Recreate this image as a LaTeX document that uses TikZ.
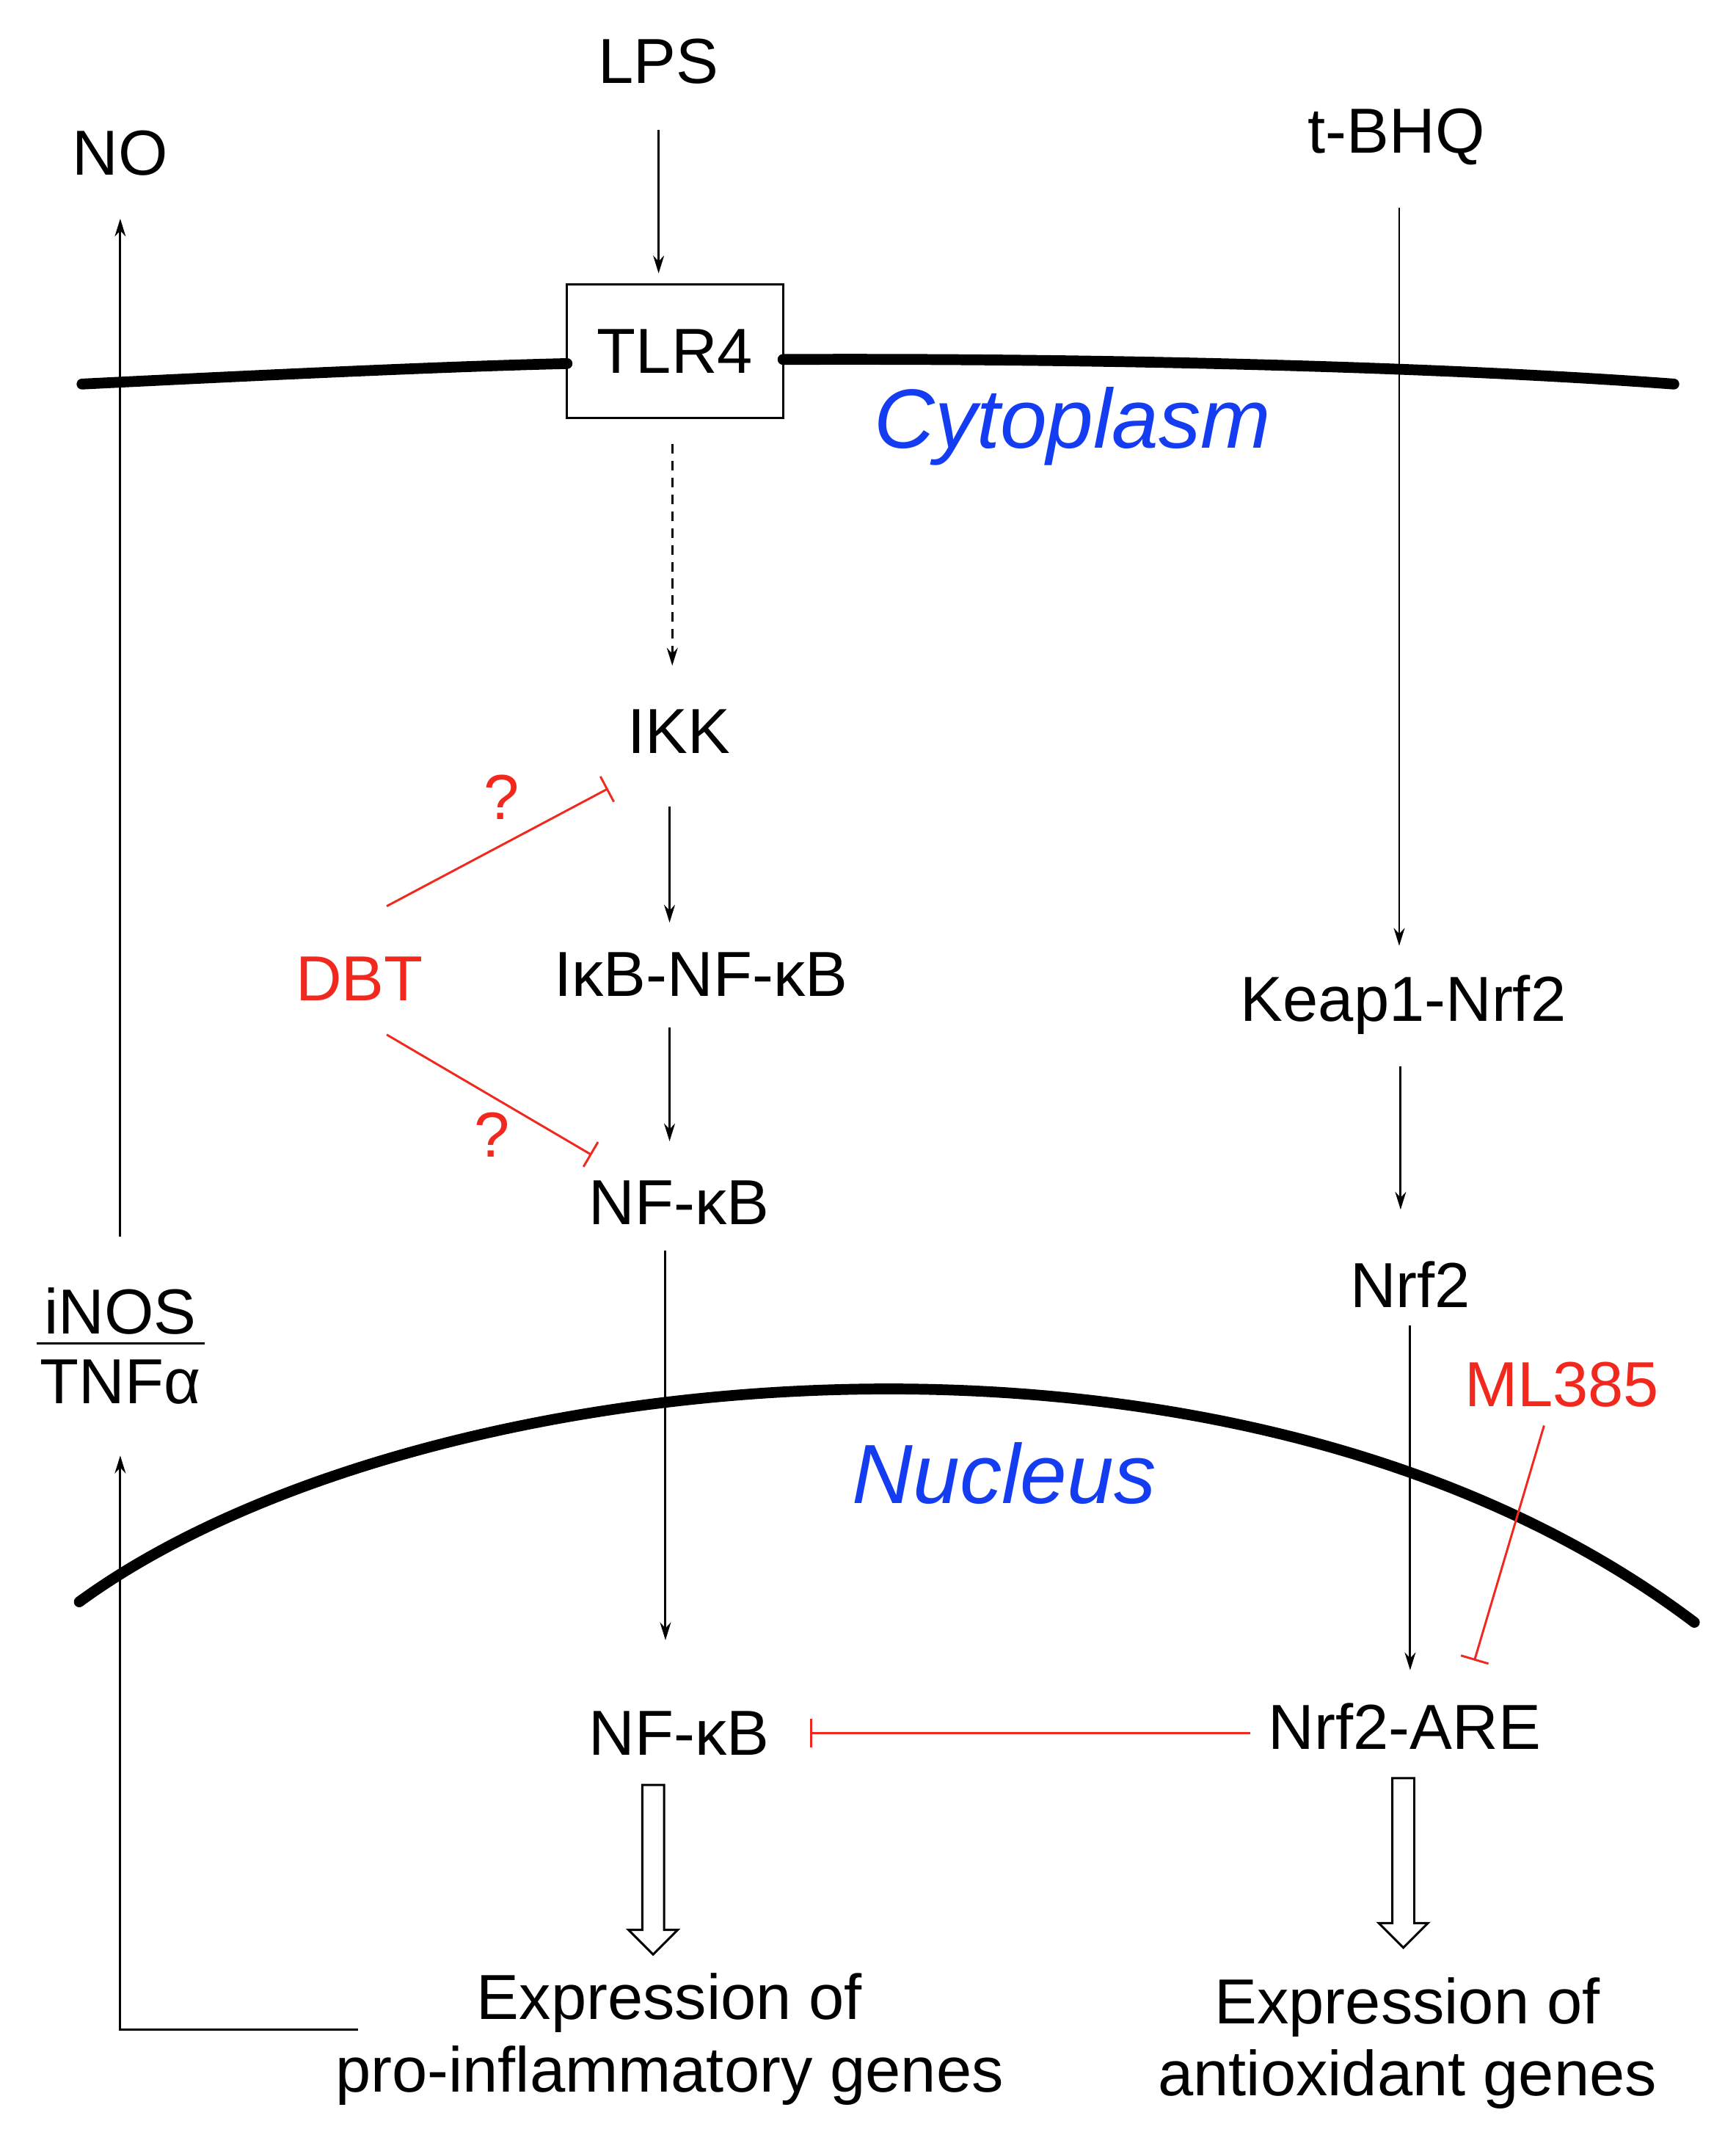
\documentclass[tikz,border=0pt]{standalone}
\usepackage{fontspec}
\setmainfont{Liberation Sans}
\usetikzlibrary{arrows.meta}
\begin{document}
\begin{tikzpicture}[x=0.02cm,y=-0.02cm,
  lbl/.style={font=\fontsize{26.5}{30}\selectfont, inner sep=0pt},
  red lbl/.style={lbl, text={rgb,255:red,240;green,40;blue,30}},
  comp/.style={font=\fontsize{35}{40}\selectfont\itshape, text={rgb,255:red,20;green,60;blue,240}, inner sep=0pt},
  act/.style={line width=0.9pt, -{Stealth[length=0.26cm,width=0.16cm]}},
  inh/.style={line width=0.9pt, draw={rgb,255:red,240;green,40;blue,30}, -{Bar[width=0.42cm]}},
  mem/.style={line width=4.5pt, line cap=round},
  hollow/.style={line width=0.9pt, fill=white}]
\useasboundingbox (0,0) rectangle (1270,1576);
% membranes
\draw[mem] (60,281) .. controls (200,274) and (330,268) .. (415,266);
\draw[mem] (573,263) .. controls (800,262) and (1050,268) .. (1225,281);
\draw[mem] (58,1172) .. controls (300,995) and (900,930) .. (1240,1187);
\node[comp] (cyto) at (785,312) {Cytoplasm};
\node[comp] (nuc) at (735,1078) {Nucleus};
% nodes
\node[lbl] (lps) at (482,45) {LPS};
\node[lbl, draw, line width=0.9pt, minimum width=3.16cm, minimum height=1.96cm] (tlr4) at (494,257) {TLR4};
\node[lbl] (no) at (88,112) {NO};
\node[lbl] (tbhq) at (1022,100) {t-BHQ};
\node[lbl] (ikk) at (497,535) {IKK};
\node[lbl] (ikb) at (513,713) {IκB-NF-κB};
\node[lbl] (nfkb1) at (497,880) {NF-κB};
\node[red lbl] (dbt) at (263,716) {DBT};
\node[red lbl] (q1) at (367,583) {?};
\node[red lbl] (q2) at (360,830) {?};
\node[lbl] (keap) at (1027,735) {Keap1-Nrf2};
\node[lbl] (nrf2) at (1032,940) {Nrf2};
\node[red lbl] (ml) at (1143,1013) {ML385};
\node[lbl] (nfkb2) at (497,1268) {NF-κB};
\node[lbl] (are) at (1028,1263) {Nrf2-ARE};
\node[lbl, align=center] (expl) at (490,1492) {Expression of\\pro-inflammatory genes};
\node[lbl, align=center] (expr) at (1030,1495) {Expression of\\antioxidant genes};
\node[lbl, align=center] (inos) at (88,985) {iNOS\\[-1pt]TNFα};
\draw[line width=0.9pt] (27,983) -- (150,983);
% coordinates
\coordinate (a1) at (482,95); \coordinate (a2) at (482,200);
\coordinate (d1) at (492,325); \coordinate (d2) at (492,487);
\coordinate (b1) at (490,590); \coordinate (b2) at (490,675);
\coordinate (c1) at (490,752); \coordinate (c2) at (490,835);
\coordinate (e1) at (487,915); \coordinate (e2) at (487,1200);
\coordinate (t1) at (1024,152); \coordinate (t2) at (1024,692);
\coordinate (k1) at (1025,780); \coordinate (k2) at (1025,885);
\coordinate (n1) at (1032,970); \coordinate (n2) at (1032,1222);
\coordinate (g1) at (88,905); \coordinate (g2) at (88,160);
\coordinate (h0) at (262,1485); \coordinate (h1) at (88,1485); \coordinate (h2) at (88,1065);
\coordinate (r1) at (283,663); \coordinate (r2) at (445,577);
\coordinate (s1) at (283,757); \coordinate (s2) at (433,845);
\coordinate (m1) at (1130,1043); \coordinate (m2) at (1079,1215);
\coordinate (x1) at (915,1268); \coordinate (x2) at (593,1268);
% arrows
\draw[act] (a1) -- (a2);
\draw[act, dash pattern=on 4pt off 3pt] (d1) -- (d2);
\draw[act] (b1) -- (b2);
\draw[act] (c1) -- (c2);
\draw[act] (e1) -- (e2);
\draw[act] (t1) -- (t2);
\draw[act] (k1) -- (k2);
\draw[act] (n1) -- (n2);
\draw[act] (g1) -- (g2);
\draw[act] (h0) -- (h1) -- (h2);
\draw[inh] (r1) -- (r2);
\draw[inh] (s1) -- (s2);
\draw[inh] (m1) -- (m2);
\draw[inh] (x1) -- (x2);
% hollow arrows
\draw[hollow] (470,1306) -- (486,1306) -- (486,1412) -- (496,1412) -- (478,1430) -- (460,1412) -- (470,1412) -- cycle;
\draw[hollow] (1019,1301) -- (1035,1301) -- (1035,1407) -- (1045,1407) -- (1027,1425) -- (1009,1407) -- (1019,1407) -- cycle;
\end{tikzpicture}
\end{document}
